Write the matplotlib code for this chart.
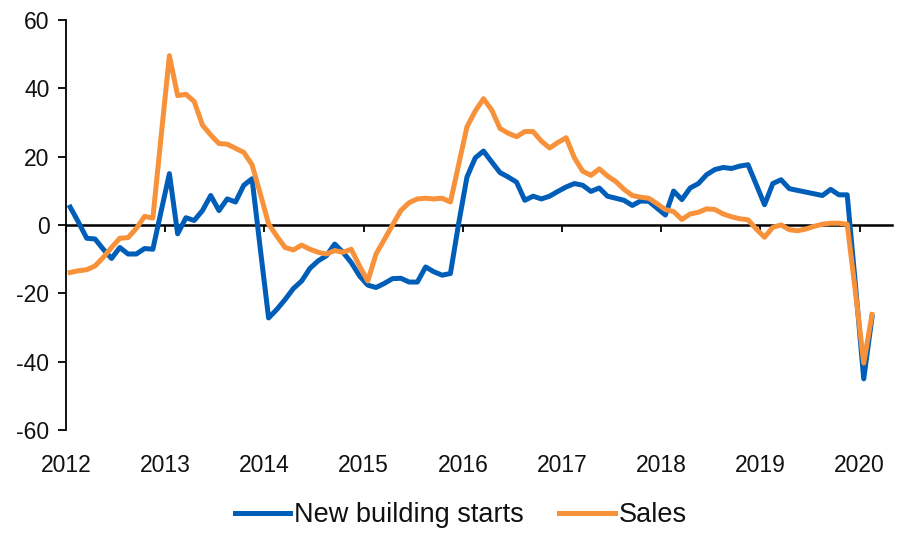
import matplotlib
matplotlib.use('Agg')
import matplotlib.pyplot as plt
import numpy as np

plt.rcParams['font.family'] = ['Liberation Sans', 'DejaVu Sans']
plt.rcParams['axes.unicode_minus'] = False

# monthly values, Jan 2012 - Feb 2020
starts = [5.2, 0.8, -3.9, -4.1, -7.1, -9.8, -6.6, -8.5, -8.5, -6.9, -7.1, 4.0,
          15.0, -2.6, 2.1, 1.3, 4.2, 8.6, 4.2, 7.6, 6.7, 11.6, 13.5, -7.0,
          -27.2, -24.7, -21.8, -18.6, -16.4, -12.7, -10.5, -9.0, -5.6, -8.0, -11.0, -14.9,
          -17.6, -18.3, -17.1, -15.7, -15.6, -16.7, -16.7, -12.3, -13.7, -14.7, -14.2, 0.5,
          14.0, 19.6, 21.6, 18.4, 15.3, 14.0, 12.5, 7.2, 8.4, 7.6, 8.4, 9.8,
          11.1, 12.1, 11.6, 9.8, 10.8, 8.4, 7.8, 7.2, 5.7, 7.0, 6.9, 4.9,
          2.9, 9.9, 7.4, 10.8, 12.1, 14.7, 16.2, 16.8, 16.5, 17.2, 17.6, 11.8,
          5.9, 12.1, 13.2, 10.6, 10.1, 9.6, 9.1, 8.6, 10.4, 8.8, 8.8, -17.6,
          -45.0, -27.0]
sales = [-13.9, -13.4, -13.1, -12.0, -9.5, -6.6, -3.9, -3.7, -1.0, 2.5, 2.0, 25.9,
         49.5, 37.8, 38.2, 36.1, 29.2, 26.3, 23.8, 23.6, 22.4, 21.2, 17.6, 9.1,
         0.3, -3.3, -6.6, -7.3, -5.9, -7.1, -8.0, -8.5, -7.5, -8.0, -7.1, -12.0,
         -16.4, -8.5, -4.3, 0.0, 4.2, 6.5, 7.6, 7.8, 7.6, 7.8, 6.7, 17.7,
         28.7, 33.3, 36.9, 33.6, 28.2, 26.8, 25.8, 27.3, 27.3, 24.5, 22.5, 24.1,
         25.5, 19.6, 15.7, 14.5, 16.4, 14.3, 12.7, 10.4, 8.6, 8.1, 7.8, 6.2,
         4.5, 3.9, 1.6, 3.2, 3.7, 4.7, 4.5, 3.2, 2.4, 1.8, 1.5, -1.2,
         -3.6, -0.7, 0.0, -1.4, -1.7, -1.2, -0.4, 0.2, 0.5, 0.5, 0.2, -19.7,
         -40.4, -26.2]
years = list(range(2012, 2021))

x = 2012 + (np.arange(len(sales)) + 0.5) / 12

blue = '#005EB8'
orange = '#F7923A'

fig = plt.figure(figsize=(9.05, 5.33), dpi=100)
ax = fig.add_axes([0.073, 0.193, 0.913, 0.77])

ax.plot(x, starts, color=blue, lw=3.6, label='New building starts', solid_joinstyle='round')
ax.plot(x, sales, color=orange, lw=3.6, label='Sales', solid_joinstyle='round')

ax.set_xlim(2012, 2020.33)
ax.set_ylim(-60, 60)
ax.set_yticks(range(-60, 61, 20))
ax.set_xticks(years)
ax.set_xticklabels([str(y) for y in years])
ax.tick_params(axis='x', length=0, pad=17, labelsize=16.5, labelcolor='#111111')
ax.tick_params(axis='y', length=6, width=1.3, direction='out', pad=6, labelsize=16.5,
               labelcolor='#111111')

for s in ['top', 'right', 'bottom']:
    ax.spines[s].set_visible(False)
ax.spines['left'].set_linewidth(1.3)

# zero line with small year ticks pointing down
sec = ax.secondary_xaxis(0.5)
sec.set_xticks(years)
sec.set_xticklabels([])
sec.tick_params(axis='x', direction='in', length=5, width=1.3,
                labeltop=False, labelbottom=False)
for s in sec.spines.values():
    s.set_linewidth(1.8)

ax.legend(loc='center', bbox_to_anchor=(0.478, -0.207), ncol=2, frameon=False,
          handlelength=2.05, handletextpad=0.15, columnspacing=1.3, fontsize=19.5,
          labelcolor='#111111')

fig.savefig('out.png', dpi=100)
